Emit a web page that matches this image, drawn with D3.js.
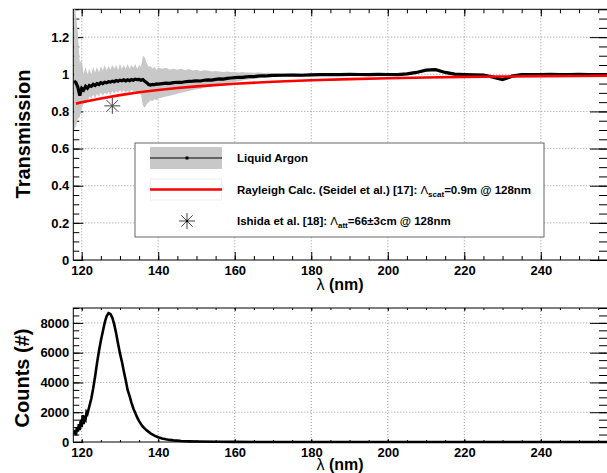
<!DOCTYPE html>
<html>
<head>
<meta charset="utf-8">
<script src="https://cdn.jsdelivr.net/npm/d3@7"></script>
<style>
  body { margin: 0; background: #fff; }
  svg text { font-family: "Liberation Sans", Arial, sans-serif; font-weight: bold; fill: #000; }
  .tick text { font-size: 13px; }
  .tick line { stroke: #000; }
</style>
</head>
<body>
<div id="chart"></div>
<script>
// transmission of liquid argon (black points with grey error band)
var lamT = [118.0,118.5,119.0,119.5,120.0,120.5,121.0,121.5,122.0,122.5,123.0,123.5,124.0,124.5,125.0,125.5,126.0,126.5,127.0,127.5,
  128.0,128.5,129.0,129.5,130.0,130.5,131.0,131.5,132.0,132.5,133.0,133.5,134.0,134.5,135.0,135.5,136.0,136.5,137.0,137.5,
  138.0,138.5,139.0,139.5,140.0,141,142,143,144,145,146,147,148,149,150,151,152,153,154,155,156,157,158,159,160,
  161,162,163,164,165,166,167,168,169,170,172.5,175,177.5,180,182.5,185,187.5,190,192.5,195,197.5,200,202.5,205,207.5,
  210,212.5,215,217.5,220,222.5,225,227.5,230,232.5,235,237.5,240,242.5,245,247.5,250,252.5,255,257.5];
var transT = [0.965,0.955,0.93,0.885,0.925,0.915,0.935,0.925,0.94,0.935,0.946,0.94,0.95,0.945,0.955,0.95,0.957,0.954,0.96,0.958,
  0.963,0.96,0.966,0.962,0.968,0.965,0.97,0.964,0.97,0.966,0.972,0.968,0.974,0.971,0.973,0.968,0.972,0.962,0.955,0.945,
  0.942,0.946,0.944,0.948,0.947,0.95,0.952,0.951,0.955,0.957,0.956,0.96,0.962,0.963,0.965,0.964,0.968,0.97,0.969,0.973,0.975,0.974,0.978,0.98,0.982,
  0.984,0.983,0.986,0.988,0.987,0.99,0.992,0.991,0.993,0.994,0.995,0.996,0.995,0.997,0.998,0.999,0.998,1.0,0.999,0.998,1.0,0.999,0.998,1.002,1.01,
  1.022,1.025,1.01,1.001,0.999,0.997,0.996,0.985,0.971,0.99,0.998,0.999,0.999,1.0,0.999,0.999,1.0,0.998,0.999,0.999];
var bandHi = [1.40,1.32,1.22,1.06,1.08,1.00,1.04,1.00,1.03,1.00,1.04,1.01,1.04,1.01,1.045,1.02,1.05,1.02,1.045,1.025,
  1.05,1.03,1.05,1.025,1.055,1.03,1.05,1.03,1.055,1.03,1.05,1.035,1.055,1.03,1.05,1.04,1.10,1.09,1.06,1.04,
  1.045,1.03,1.04,1.025,1.035,1.03,1.035,1.025,1.03,1.025,1.03,1.022,1.028,1.02,1.025,1.018,1.022,1.02,1.015,1.018,1.015,1.012,1.015,1.012,1.012,
  1.01,1.012,1.01,1.01,1.008,1.01,1.008,1.007,1.008,1.006,1.006,1.005,1.004,1.005,1.004,1.005,1.004,1.006,1.005,1.004,1.006,1.005,1.004,1.008,1.016,
  1.028,1.031,1.016,1.007,1.005,1.003,1.002,0.991,0.977,0.996,1.004,1.005,1.005,1.006,1.005,1.005,1.006,1.004,1.005,1.005];
var bandLo = [0.70,0.72,0.76,0.77,0.82,0.84,0.86,0.85,0.88,0.87,0.89,0.87,0.895,0.88,0.9,0.885,0.9,0.89,0.905,0.89,
  0.91,0.895,0.91,0.9,0.915,0.9,0.915,0.9,0.91,0.9,0.915,0.905,0.91,0.9,0.905,0.89,0.83,0.82,0.84,0.85,
  0.86,0.855,0.865,0.86,0.87,0.875,0.88,0.885,0.89,0.895,0.9,0.905,0.91,0.915,0.92,0.922,0.928,0.932,0.935,0.94,0.945,0.948,0.952,0.956,0.96,
  0.963,0.966,0.97,0.974,0.975,0.978,0.98,0.982,0.984,0.985,0.987,0.989,0.988,0.99,0.992,0.993,0.992,0.994,0.993,0.992,0.994,0.993,0.992,0.996,1.004,
  1.016,1.019,1.004,0.995,0.993,0.991,0.99,0.979,0.965,0.984,0.992,0.993,0.993,0.994,0.993,0.993,0.994,0.992,0.993,0.993];

// Rayleigh calculation (red)
var lamR = [118.5,120,125,130,135,140,145,150,160,170,180,190,200,210,220,230,240,250,257.5];
var transR = [0.842,0.849,0.87,0.888,0.903,0.915,0.926,0.935,0.949,0.96,0.968,0.974,0.979,0.983,0.986,0.988,0.99,0.991,0.993];

// Ishida et al. point
var ishida = [{lam: 128, t: 0.83}];

// emission spectrum counts (bottom)
var lamC = [118.0,118.25,118.5,118.75,119.0,119.25,119.5,119.75,120.0,120.25,120.5,120.75,121.0,121.25,121.5,122.0,122.5,123.0,123.5,124.0,
  124.5,125.0,125.5,126.0,126.5,127.0,127.5,128.0,128.5,129.0,129.5,130.0,130.5,131.0,131.5,132.0,132.5,133.0,133.5,134.0,
  134.5,135.0,135.5,136.0,136.5,137.0,137.5,138,139,140,141,142,143,144,145,146,148,150,155,160,170,257.5];
var counts = [500,800,450,1000,700,1200,800,1500,1000,1800,1200,1600,1500,2000,1900,2400,2900,3600,4400,5300,
  6100,6800,7400,8000,8450,8650,8600,8350,7900,7300,6600,5950,5400,4750,4150,3500,3100,2650,2250,1950,
  1650,1400,1200,1020,900,780,680,580,430,320,240,180,140,110,90,70,45,30,12,6,2,0];

var xTicks = [120,140,160,180,200,220,240];
var yTicksT = [0,0.2,0.4,0.6,0.8,1,1.2];
var yTicksC = [0,2000,4000,6000,8000];

var W = 607, H = 473;
var left = 73.3, right = 607;
var svg = d3.select("#chart").append("svg").attr("width", W).attr("height", H);

var x = d3.scaleLinear().domain([117.8, 257.3]).range([left, right]);
var xMinor = d3.range(120, 258, 5);

function panel(id, y, yTicks, yMinor, xt, padBot) {
  var top = y.range()[1], bot = y.range()[0];
  var g = svg.append("g");
  g.append("clipPath").attr("id", id).append("rect")
    .attr("x", left).attr("y", top).attr("width", right - left).attr("height", bot - top + padBot);
  // grid
  g.selectAll(".vg").data(xTicks).enter().append("line")
    .attr("x1", function(d){ return x(d); }).attr("x2", function(d){ return x(d); })
    .attr("y1", top).attr("y2", bot)
    .attr("stroke", "#999").attr("stroke-dasharray", "1,2");
  g.selectAll(".hg").data(yTicks.filter(function(d){ return d > 0; })).enter().append("line")
    .attr("x1", left).attr("x2", right)
    .attr("y1", function(d){ return y(d); }).attr("y2", function(d){ return y(d); })
    .attr("stroke", "#999").attr("stroke-dasharray", "1,2");
  // axes
  g.append("g").attr("transform", "translate(0," + bot + ")")
    .call(d3.axisBottom(x).tickValues(xTicks).tickSize(-xt[0]).tickPadding(6).tickFormat(function(d){ return String(d); }));
  g.append("g").attr("transform", "translate(0," + bot + ")")
    .call(d3.axisBottom(x).tickValues(xMinor).tickSize(-xt[1]).tickFormat(""));
  g.append("g").attr("transform", "translate(0," + top + ")")
    .call(d3.axisTop(x).tickValues(xTicks).tickSize(-xt[2]).tickFormat(""));
  g.append("g").attr("transform", "translate(0," + top + ")")
    .call(d3.axisTop(x).tickValues(xMinor).tickSize(-xt[3]).tickFormat(""));
  g.append("g").attr("transform", "translate(" + left + ",0)")
    .call(d3.axisLeft(y).tickValues(yTicks).tickSize(-10).tickPadding(4).tickFormat(function(d){ return String(d); }));
  g.append("g").attr("transform", "translate(" + left + ",0)")
    .call(d3.axisLeft(y).tickValues(yMinor).tickSize(-6).tickFormat(""));
  g.append("g").attr("transform", "translate(" + right + ",0)")
    .call(d3.axisRight(y).tickValues(yTicks).tickSize(-17).tickFormat(""));
  g.append("g").attr("transform", "translate(" + right + ",0)")
    .call(d3.axisRight(y).tickValues(yMinor).tickSize(-8).tickFormat(""));
  g.selectAll(".domain").remove();
  g.append("rect").attr("x", left).attr("y", top).attr("width", right - left + 2).attr("height", bot - top)
    .attr("fill", "none").attr("stroke", "#000").attr("stroke-width", 1);
  return g.append("g").attr("clip-path", "url(#" + id + ")");
}

// ---- top panel
var yT = d3.scaleLinear().domain([0, 1.35]).range([260, 9.3]);
var pT = panel("clipT", yT, yTicksT, d3.range(0, 1.36, 0.05), [8, 4, 7, 4], 0);

var idx = d3.range(lamT.length);
pT.append("path").datum(idx)
  .attr("fill", "#c8c8c8")
  .attr("d", d3.area().x(function(i){ return x(lamT[i]); })
    .y0(function(i){ return yT(bandLo[i]); }).y1(function(i){ return yT(bandHi[i]); }));
pT.append("path").datum(idx)
  .attr("fill", "none").attr("stroke", "#000").attr("stroke-width", 3.2)
  .attr("d", d3.line().x(function(i){ return x(lamT[i]); }).y(function(i){ return yT(transT[i]); }));
pT.append("path").datum(d3.range(lamR.length))
  .attr("fill", "none").attr("stroke", "#f00").attr("stroke-width", 2.6)
  .attr("d", d3.line().x(function(i){ return x(lamR[i]); }).y(function(i){ return yT(transR[i]); }));

var star = "M-8,0H8M0,-8V8M-5.7,-5.7L5.7,5.7M-5.7,5.7L5.7,-5.7";
pT.selectAll(".star").data(ishida).enter().append("path")
  .attr("transform", function(d){ return "translate(" + x(d.lam) + "," + yT(d.t) + ")"; })
  .attr("d", star).attr("stroke", "#444").attr("stroke-width", 1).attr("fill", "none");

// legend
var lg = svg.append("g");
lg.append("rect").attr("x", 135).attr("y", 143).attr("width", 409).attr("height", 94)
  .attr("fill", "#fff").attr("stroke", "#666").attr("stroke-width", 1);
lg.append("rect").attr("x", 150).attr("y", 147).attr("width", 72).attr("height", 22).attr("fill", "#c8c8c8");
lg.append("line").attr("x1", 150).attr("x2", 222).attr("y1", 158).attr("y2", 158).attr("stroke", "#000").attr("stroke-width", 1.2);
lg.append("rect").attr("x", 185.5).attr("y", 156.5).attr("width", 3).attr("height", 3).attr("fill", "#000");
lg.append("rect").attr("x", 150.5).attr("y", 179).attr("width", 71).attr("height", 21).attr("fill", "#fff").attr("stroke", "#eee");
lg.append("line").attr("x1", 150).attr("x2", 222).attr("y1", 189.5).attr("y2", 189.5).attr("stroke", "#f00").attr("stroke-width", 2.6);
lg.append("path").attr("transform", "translate(187,221)").attr("d", star)
  .attr("stroke", "#444").attr("stroke-width", 1).attr("fill", "none");
lg.append("circle").attr("cx", 187).attr("cy", 221).attr("r", 1.2).attr("fill", "#000");

lg.append("text").attr("x", 237).attr("y", 162).style("font-size", "11.5px").text("Liquid Argon");
var t2 = lg.append("text").attr("x", 237).attr("y", 193.5).style("font-size", "11.5px");
t2.append("tspan").text("Rayleigh Calc. (Seidel et al.) [17]: ");
t2.append("tspan").style("font-weight", "normal").text("Λ");
t2.append("tspan").attr("dy", 3).style("font-size", "8px").text("scat");
t2.append("tspan").attr("dy", -3).text("=0.9m @ 128nm");
var t3 = lg.append("text").attr("x", 237).attr("y", 225).style("font-size", "11.5px");
t3.append("tspan").text("Ishida et al. [18]: ");
t3.append("tspan").style("font-weight", "normal").text("Λ");
t3.append("tspan").attr("dy", 3).style("font-size", "8px").text("att");
t3.append("tspan").attr("dy", -3).text("=66±3cm @ 128nm");

// ---- bottom panel
var yC = d3.scaleLinear().domain([0, 9000]).range([442, 308]);
var pC = panel("clipC", yC, yTicksC, d3.range(0, 9001, 500), [3, 2, 3, 2], 2);
pC.append("path").datum(d3.range(lamC.length))
  .attr("fill", "none").attr("stroke", "#000").attr("stroke-width", 2.6)
  .attr("d", d3.line().x(function(i){ return x(lamC[i]); }).y(function(i){ return yC(counts[i]); }));

// axis titles
function lambdaTitle(yy) {
  var t = svg.append("text").attr("x", 340).attr("y", yy).attr("text-anchor", "middle").style("font-size", "16px");
  t.append("tspan").style("font-weight", "normal").text("λ");
  t.append("tspan").text(" (nm)");
}
lambdaTitle(290);
lambdaTitle(470);
svg.append("text").attr("transform", "translate(30,134) rotate(-90)").attr("text-anchor", "middle")
  .style("font-size", "20px").text("Transmission");
svg.append("text").attr("transform", "translate(29,378) rotate(-90)").attr("text-anchor", "middle")
  .style("font-size", "20px").text("Counts (#)");
</script>
</body>
</html>
